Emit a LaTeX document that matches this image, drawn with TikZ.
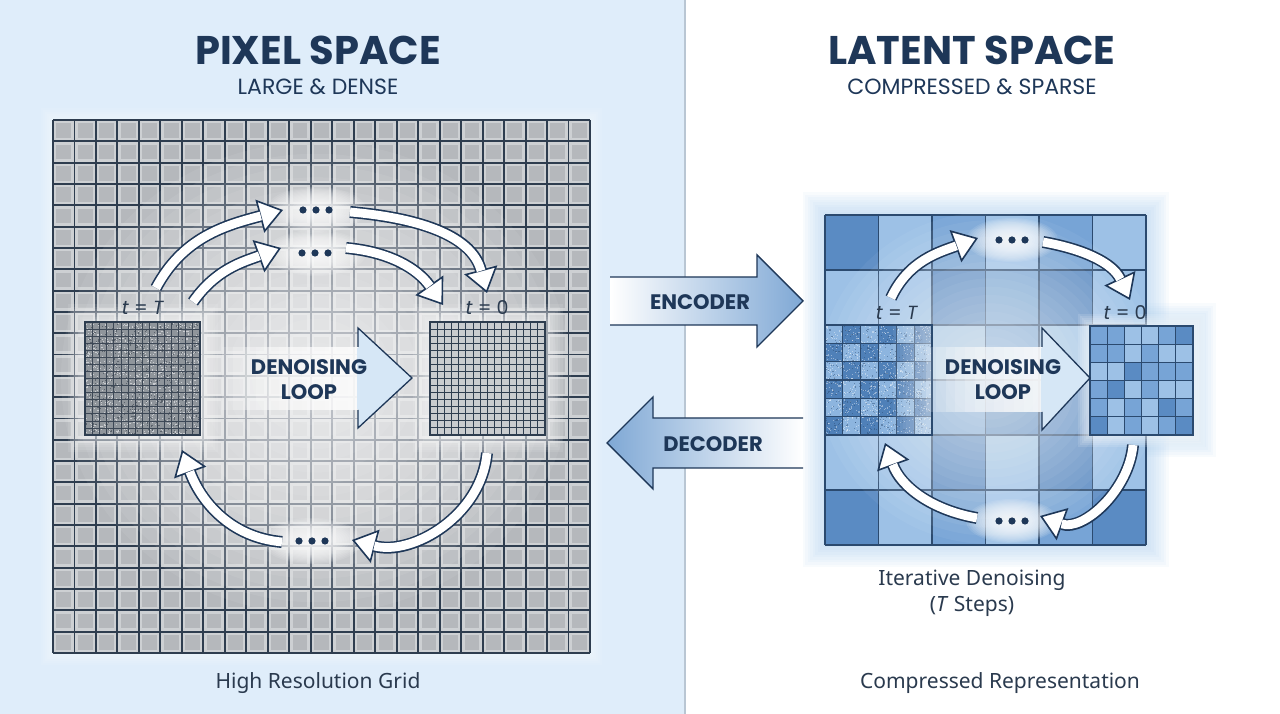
\documentclass[tikz,border=0pt]{standalone}
\usepackage{fontspec}
\setmainfont{Poppins}
\newfontfamily\noto{Noto Sans}
\usetikzlibrary{arrows.meta,calc}
\definecolor{navy}{HTML}{1E3758}
\definecolor{gridline}{HTML}{2E3D4F}
\definecolor{leftbg}{HTML}{DFEDFA}
\definecolor{divider}{HTML}{B9C6D3}
\definecolor{cellgray}{HTML}{B5B8BC}
\definecolor{cellrim}{HTML}{CDD0D3}
\definecolor{noisebase}{HTML}{8F959B}
\definecolor{noiselight}{HTML}{C9CCD0}
\definecolor{noisedark}{HTML}{5A626B}
\definecolor{noisegrid}{HTML}{3D4856}
\definecolor{cleanfill}{HTML}{C9CCCF}
\definecolor{ldark}{HTML}{5A8BC3}
\definecolor{lmed}{HTML}{77A4D6}
\definecolor{llight}{HTML}{9DC1E6}
\definecolor{ndark}{HTML}{4F80B8}
\definecolor{nlight}{HTML}{8DB5DF}
\definecolor{latline}{HTML}{2B4A6F}
\definecolor{haloblue}{HTML}{A9CDF0}
\definecolor{headblue}{HTML}{D6E7F6}
\definecolor{textgray}{HTML}{2A3A4E}
\definecolor{arrowmid}{HTML}{CFE1F3}
\definecolor{arrowdeep}{HTML}{7FA8D5}

\tikzset{
  title/.style={font=\bfseries\fontsize{40}{40}\selectfont, text=navy},
  subtitle/.style={font=\fontsize{22}{22}\selectfont, text=navy},
  caption/.style={font=\noto\fontsize{21}{26}\selectfont, text=textgray, align=center},
  tlabel/.style={font=\fontsize{19}{19}\selectfont, text=textgray},
  boxlabel/.style={font=\bfseries\fontsize{21}{25}\selectfont, text=navy, align=center},
  ribout/.style={draw=navy, line width=12pt, -{Triangle[length=24pt,width=34pt,line width=1.6pt,fill=white]}},
  ribin/.style={draw=white, line width=8.8pt, shorten >=23pt},
  dotfill/.style={fill=navy},
  framebox/.style={draw=gridline, line width=1.8pt, inner sep=0pt},
}
\newcommand\ribbon[1]{\draw[ribout] #1; \draw[ribin] #1;}
% center, rx, ry, colour, per-layer opacity
\newcommand\softglow[5]{\foreach \k in {1,...,20}{\fill[#4, opacity=#5] (#1) ellipse [x radius={#2*\k/20}, y radius={#3*\k/20}];}}
% x1,y1,x2,y2,per-layer opacity : white bar fading in from the left
\newcommand\fadebar[5]{\foreach \k in {0,...,11}{\fill[white, opacity=#5] ({#1+(#3-#1)*\k/12},#2) rectangle (#3,#4);}}
\newcommand\dotrow[1]{\foreach \dx in {-13,0,13}{\fill[dotfill] ($(#1)+(\dx,0)$) circle (3.6);}}

\begin{document}
\begin{tikzpicture}[x=1pt,y=1pt]
\useasboundingbox (0,0) rectangle (1280,714);
% backgrounds
\fill[leftbg] (0,0) rectangle (685,714);
\fill[white] (685,0) rectangle (1280,714);
\draw[divider, line width=1.5] (685,0) -- (685,714);

% titles
\node[title] (pxt) at (318,664) {PIXEL SPACE};
\node[subtitle] (pxs) at (318,627) {LARGE \& DENSE};
\node[title] (ltt) at (972,664) {LATENT SPACE};
\node[subtitle] (lts) at (972,627) {COMPRESSED \& SPARSE};

% ===== LEFT: pixel grid =====
\foreach \k in {1,...,6}{\fill[white, opacity=0.08] (53-2*\k,61-2*\k) rectangle (590+2*\k,594+2*\k);}
\fill[cellrim] (53,61) rectangle (590,594);
\foreach \i in {0,...,24}{\foreach \j in {0,...,24}{
  \fill[cellgray] ({53+\i*21.48+3.4},{61+\j*21.32+3.4}) rectangle +(14.7,14.5);}}
\foreach \k in {0,...,25}{
  \draw[gridline, line width=1.9] ({53+\k*21.48},61) -- ({53+\k*21.48},594);
  \draw[gridline, line width=1.9] (53,{61+\k*21.32}) -- (590,{61+\k*21.32});}

% glow in the loop
\softglow{316,336}{255}{236}{white}{0.065}
\softglow{316,504}{50}{23}{white}{0.1}
\softglow{316,461}{50}{23}{white}{0.1}
\softglow{312,173}{50}{23}{white}{0.1}
\foreach \k in {1,...,7}{
  \fill[white, opacity=0.09] (85-2.5*\k,279-2.5*\k) rectangle (200+2.5*\k,392+2.5*\k);
  \fill[white, opacity=0.09] (430-2.5*\k,279-2.5*\k) rectangle (545+2.5*\k,392+2.5*\k);}

% noisy square t=T
\fill[noisebase] (85,279) rectangle (200,392);
\pgfmathsetseed{3}
\foreach \n in {1,...,1100}{\fill[noiselight] ({85+114*rnd},{279+112*rnd}) rectangle +(1.1,1.1);}
\foreach \n in {1,...,500}{\fill[noisedark] ({85+114*rnd},{279+112*rnd}) rectangle +(1.1,1.1);}
\foreach \k in {1,...,15}{
  \draw[noisegrid, line width=0.7] ({85+\k*7.1875},279) -- ++(0,113);
  \draw[noisegrid, line width=0.7] (85,{279+\k*7.0625}) -- ++(115,0);}
\node[framebox, minimum width=115pt, minimum height=113pt] (xT) at (142.5,335.5) {};

% clean square t=0
\fill[cleanfill] (430,279) rectangle (545,392);
\foreach \k in {1,...,15}{
  \draw[gridline, line width=1.1] ({430+\k*7.1875},279) -- ++(0,113);
  \draw[gridline, line width=1.1] (430,{279+\k*7.0625}) -- ++(115,0);}
\node[framebox, minimum width=115pt, minimum height=113pt] (x0) at (487.5,335.5) {};

\node[tlabel] (tTl) at (143,406) {\textit{t} = \textit{T}};
\node[tlabel] (t0l) at (487,406) {\textit{t} = 0};

% left denoising arrow
\fadebar{222}{304}{359}{367}{0.15}
\filldraw[fill=headblue, draw=navy, line width=1.3, line join=miter]
  (358,367) -- (358,386) -- (412,336) -- (358,286) -- (358,304);
\fill[headblue] (356.6,304.7) rectangle (358.65,366.3);
\node[boxlabel] (dl) at (309,334) {DENOISING\\LOOP};

% left curved arrows
\coordinate (a1s) at (156,426); \coordinate (a1e) at (283,504);
\coordinate (a2s) at (193,412); \coordinate (a2e) at (281,466);
\coordinate (a3s) at (350,502); \coordinate (a3e) at (487,421);
\coordinate (a4s) at (346,466); \coordinate (a4e) at (443,409);
\coordinate (a5s) at (487,261); \coordinate (a5e) at (352,174);
\coordinate (a6s) at (282,172); \coordinate (a6e) at (182,264);
\ribbon{(a1s) to[out=62,in=195] (a1e)}
\ribbon{(a2s) to[out=55,in=200] (a2e)}
\ribbon{(a3s) to[out=-5,in=105] (a3e)}
\ribbon{(a4s) to[out=-5,in=125] (a4e)}
\ribbon{(a5s) to[out=-95,in=-15] (a5e)}
\ribbon{(a6s) to[out=175,in=-70] (a6e)}
\coordinate (dL1) at (316,504); \dotrow{dL1}
\coordinate (dL2) at (315,461); \dotrow{dL2}
\coordinate (dL3) at (312,173); \dotrow{dL3}

\node[caption] (capL) at (318,31) {High Resolution Grid};

% ===== ENCODER / DECODER =====
\shade[left color=white, middle color=arrowmid, right color=arrowdeep]
  (610,437) -- (757,437) -- (757,459) -- (803,413) -- (757,367) -- (757,389) -- (610,389) -- cycle;
\draw[navy, line width=1.4, line join=miter]
  (610,437) -- (757,437) -- (757,459) -- (803,413) -- (757,367) -- (757,389) -- (610,389);
\node[boxlabel] (enc) at (700,412) {ENCODER};

\shade[left color=arrowdeep, middle color=arrowmid, right color=white]
  (803,296) -- (653,296) -- (653,317) -- (607,271) -- (653,225) -- (653,246) -- (803,246) -- cycle;
\draw[navy, line width=1.4, line join=miter]
  (803,296) -- (653,296) -- (653,317) -- (607,271) -- (653,225) -- (653,246) -- (803,246);
\node[boxlabel] (dec) at (713,270) {DECODER};

% ===== RIGHT: latent grid =====
\foreach \k in {1,...,9}{
  \fill[haloblue, opacity=0.07] (825-2.5*\k,169-2.5*\k) rectangle (1146+2.5*\k,499+2.5*\k);
  \fill[haloblue, opacity=0.07] (1090-2.5*\k,279-2.5*\k) rectangle (1193+2.5*\k,388+2.5*\k);}
\foreach \r/\cl in {0/{ldark,llight,lmed,llight,lmed,llight},
                    1/{llight,llight,ldark,lmed,ldark,llight},
                    2/{ldark,lmed,llight,lmed,llight,ldark},
                    3/{lmed,ldark,lmed,ldark,ldark,lmed},
                    4/{llight,llight,ldark,llight,ldark,llight},
                    5/{ldark,llight,lmed,llight,lmed,ldark}}{
  \foreach \c [count=\k from 0] in \cl {
    \fill[\c] ({825+\k*53.5},{499-\r*55}) rectangle +(53.5,-55);}}
\foreach \k in {0,...,6}{
  \draw[latline, line width=1.8] ({825+\k*53.5},169) -- ({825+\k*53.5},499);
  \draw[latline, line width=1.8] (825,{169+\k*55}) -- (1146,{169+\k*55});}

% glow inside latent loop
\softglow{990,336}{172}{166}{white}{0.05}
\softglow{1012,474}{46}{22}{white}{0.1}
\softglow{1012,193}{46}{22}{white}{0.1}

% noisy latent region
\foreach \i in {0,...,5}{\foreach \j in {0,...,5}{
  \pgfmathtruncatemacro\m{mod(\i+\j,2)}
  \ifnum\m=0 \def\nc{ndark}\else\def\nc{nlight}\fi
  \fill[\nc] ({825+\i*17.83},{279+\j*18.33}) rectangle +(17.83,18.33);}}
\pgfmathsetseed{11}
\foreach \n in {1,...,900}{\fill[white, opacity=.4] ({825+105.8*rnd},{279+108.8*rnd}) rectangle +(1.1,1.1);}
\foreach \n in {1,...,500}{\fill[latline, opacity=.45] ({825+105.8*rnd},{279+108.8*rnd}) rectangle +(1.1,1.1);}
\foreach \k in {1,...,5}{
  \draw[latline, line width=1.1] ({825+\k*17.83},279) -- ++(0,110);
  \draw[latline, line width=1.1] (825,{279+\k*18.33}) -- ++(107,0);}
\fadebar{893}{279}{933}{389}{0.055}
\node[draw=latline, line width=1.8pt, inner sep=0pt, minimum width=107pt, minimum height=110pt] (zT) at (878.5,334) {};

% clean latent small grid
\foreach \k in {1,...,6}{\fill[white, opacity=0.12] (1090-2*\k,279-2*\k) rectangle (1193+2*\k,388+2*\k);}
\foreach \r/\cl in {0/{lmed,lmed,llight,llight,lmed,ldark},
                    1/{lmed,lmed,llight,lmed,llight,llight},
                    2/{llight,llight,ldark,lmed,lmed,lmed},
                    3/{lmed,ldark,llight,lmed,llight,llight},
                    4/{lmed,llight,lmed,llight,ldark,lmed},
                    5/{ldark,llight,lmed,llight,lmed,ldark}}{
  \foreach \c [count=\k from 0] in \cl {
    \fill[\c] ({1090+\k*17.17},{388-\r*18.17}) rectangle +(17.17,-18.17);}}
\foreach \k in {1,...,5}{
  \draw[latline, line width=1.1] ({1090+\k*17.17},279) -- ++(0,109);
  \draw[latline, line width=1.1] (1090,{279+\k*18.17}) -- ++(103,0);}
\node[draw=latline, line width=1.8pt, inner sep=0pt, minimum width=103pt, minimum height=109pt] (z0) at (1141.5,333.5) {};

\node[tlabel] (tTr) at (897,401) {\textit{t} = \textit{T}};
\node[tlabel] (t0r) at (1125,401) {\textit{t} = 0};

% right denoising arrow
\fadebar{926}{302}{1043}{367}{0.15}
\filldraw[fill=headblue, draw=navy, line width=1.3, line join=miter]
  (1042,367) -- (1042,386) -- (1090,336) -- (1042,284) -- (1042,302);
\fill[headblue] (1040.6,302.7) rectangle (1042.65,366.3);
\node[boxlabel] (dr) at (1003,334) {DENOISING\\LOOP};

% right curved arrows
\coordinate (b1s) at (891,416);  \coordinate (b1e) at (978,476);
\coordinate (b2s) at (1043,472); \coordinate (b2e) at (1130,414);
\coordinate (b3s) at (1133,269); \coordinate (b3e) at (1040,198);
\coordinate (b4s) at (977,196);  \coordinate (b4e) at (885,271);
\ribbon{(b1s) to[out=65,in=200] (b1e)}
\ribbon{(b2s) to[out=-10,in=115] (b2e)}
\ribbon{(b3s) to[out=-95,in=-20] (b3e)}
\ribbon{(b4s) to[out=170,in=-70] (b4e)}
\coordinate (dR1) at (1012,474); \dotrow{dR1}
\coordinate (dR2) at (1012,193); \dotrow{dR2}

\node[caption] (capI) at (972,121) {Iterative Denoising\\(\textit{T} Steps)};
\node[caption] (capR) at (1000,31) {Compressed Representation};
\end{tikzpicture}
\end{document}
